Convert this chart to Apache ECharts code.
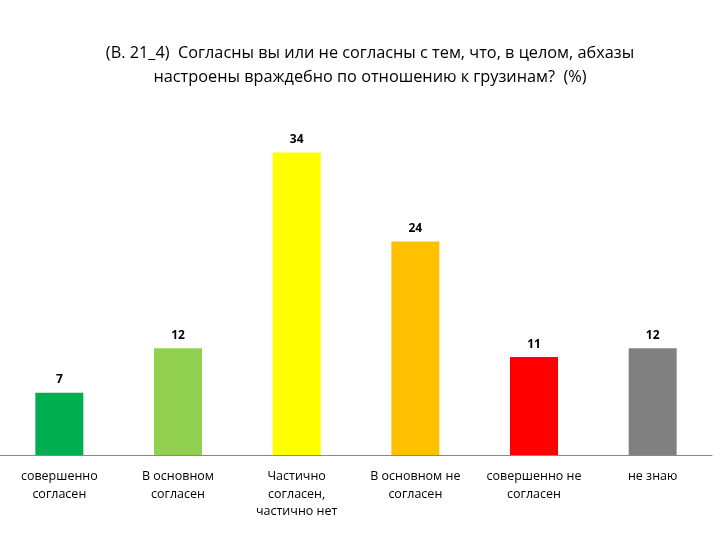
<!DOCTYPE html>
<html lang="ru">
<head>
<meta charset="UTF-8">
<title>В. 21_4</title>
<script src="https://cdn.jsdelivr.net/npm/echarts@6/dist/echarts.min.js"></script>
<style>
  html, body { margin: 0; padding: 0; background: #fff; }
  #main { width: 720px; height: 540px; }
</style>
</head>
<body>
<div id="main"></div>
<script>
// категории и значения (%)
var categories = [
    'совершенно\nсогласен',
    'В основном\nсогласен',
    'Частично\nсогласен,\nчастично нет',
    'В основном не\nсогласен',
    'совершенно не\nсогласен',
    'не знаю'
];
var values = [7, 12, 34, 24, 11, 12];
var barColors = ['#00B050', '#92D050', '#FFFF00', '#FFC000', '#FF0000', '#808080'];

var chart = echarts.init(document.getElementById('main'));

var data = values.map(function (v, i) {
    return { value: v, itemStyle: { color: barColors[i] } };
});

chart.setOption({
    animation: false,
    title: {
        text: '(В. 21_4)  Согласны вы или не согласны с тем, что, в целом, абхазы\nнастроены враждебно по отношению к грузинам?  (%)',
        left: 365,
        top: 36,
        textAlign: 'center',
        textStyle: {
            fontFamily: 'Open Sans',
            fontSize: 16.3,
            fontWeight: 'normal',
            color: '#000',
            lineHeight: 24
        }
    },
    grid: { left: 0, right: 8, top: 99, bottom: 85 },
    xAxis: {
        type: 'category',
        data: categories,
        axisLine: { lineStyle: { color: '#888', width: 1 } },
        axisTick: { show: false },
        axisLabel: {
            interval: 0,
            margin: 13,
            color: '#000',
            fontFamily: 'Open Sans',
            fontSize: 12.5,
            lineHeight: 17.5
        }
    },
    yAxis: {
        type: 'value',
        min: 0,
        max: 40,
        show: false,
        splitLine: { show: false }
    },
    series: [{
        type: 'bar',
        data: data,
        barWidth: 48,
        label: {
            show: true,
            position: 'top',
            distance: 7,
            color: '#000',
            fontFamily: 'Open Sans',
            fontWeight: 'bold',
            fontSize: 12
        }
    }]
});
</script>
</body>
</html>
